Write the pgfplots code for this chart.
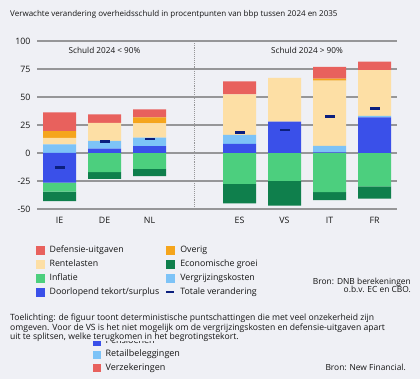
\documentclass[border=0pt]{standalone}
\usepackage{fontspec}
\setmainfont{Open Sans}
\usepackage{pgfplots}
\pgfplotsset{compat=1.18}
\usepackage{pgfplotstable}
\definecolor{bgc}{RGB}{239,240,245}
\definecolor{gridc}{RGB}{150,150,152}
\definecolor{defc}{HTML}{E8615D}
\definecolor{ovc}{HTML}{F5A51C}
\definecolor{rlc}{HTML}{FDDFA5}
\definecolor{infc}{HTML}{4CCF7E}
\definecolor{egc}{HTML}{0F7F4C}
\definecolor{vbc}{HTML}{7DC3F7}
\definecolor{dtc}{HTML}{3A50E9}
\definecolor{totc}{HTML}{0B1F7E}
\definecolor{txtc}{RGB}{20,20,20}

\pgfplotstableread{
x dt inf eg vb rl ov def tot
0 -26.5 -8.0 -8.5 7.8 5.8 6.0 16.7 -13.0
1 3.8 -17.1 -6.0 7.1 16.1 0.0 7.4 10.3
2 6.2 -14.1 -6.5 7.6 12.7 5.3 7.2 12.6
4 8.2 -27.6 -17.4 8.0 36.2 0.0 11.6 18.5
5 28.0 -25.0 -22.0 0.0 39.0 0.0 0.0 20.7
6 0.6 -35.0 -7.0 5.7 58.3 1.8 10.4 32.7
7 31.8 -29.8 -11.0 1.4 40.8 0.0 7.5 39.7
}\data

\begin{document}
\begin{tikzpicture}[every node/.style={text=txtc}]
\fill[bgc] (0,0) rectangle (420pt,379pt);
\node[anchor=base west, inner sep=0, font=\fontsize{8}{9}\selectfont] at (10pt,362pt)
  {Verwachte verandering overheidsschuld in procentpunten van bbp tussen 2024 en 2035};

\begin{axis}[
  at={(37pt,170pt)}, anchor=south west, scale only axis,
  width=360pt, height=168pt,
  xmin=-0.5, xmax=7.5, ymin=-50, ymax=100,
  ybar stacked, bar width=33pt,
  axis line style={draw=none}, major tick style={draw=none},
  ytick={-50,-25,0,25,50,75,100},
  ymajorgrids, grid style={gridc, line width=1.2pt},
  xtick={0,1,2,4,5,6,7}, xticklabels={IE,DE,NL,ES,VS,IT,FR},
  tick label style={font=\fontsize{8.8}{10}\selectfont, text=txtc},
  xticklabel style={yshift=-5pt},
  yticklabel style={xshift=-3pt},
  /pgf/number format/assume math mode=true,
  clip=false,
]
\addplot[fill=dtc, draw=none] table[x=x,y=dt]{\data};
\addplot[fill=infc, draw=none] table[x=x,y=inf]{\data};
\addplot[fill=egc, draw=none] table[x=x,y=eg]{\data};
\addplot[fill=vbc, draw=none] table[x=x,y=vb]{\data};
\addplot[fill=rlc, draw=none] table[x=x,y=rl]{\data};
\addplot[fill=ovc, draw=none] table[x=x,y=ov]{\data};
\addplot[fill=defc, draw=none] table[x=x,y=def]{\data};
\end{axis}

\begin{axis}[
  at={(37pt,170pt)}, anchor=south west, scale only axis,
  width=360pt, height=168pt,
  xmin=-0.5, xmax=7.5, ymin=-50, ymax=100,
  hide axis, clip=false,
  legend columns=2, legend cell align=left,
  legend style={at={(0,0)}, anchor=north west, xshift=-1pt, yshift=-34.5pt,
    draw=none, fill=none, inner sep=0pt, row sep=1.9pt,
    font=\fontsize{8.8}{10}\selectfont, text=txtc,
    /tikz/every odd column/.append style={column sep=3pt},
    /tikz/every even column/.append style={column sep=4pt}},
]
\addplot[gridc, densely dotted, line width=0.9pt, forget plot] coordinates {(3,-50) (3,100)};
\addplot[only marks, mark=-, mark size=5pt, mark options={line width=2.6pt, draw=totc}, forget plot]
  table[x=x,y=tot]{\data};
\node[font=\fontsize{8.2}{9}\selectfont] at (axis cs:1,91.3) {Schuld 2024 < 90\%};
\node[font=\fontsize{8.2}{9}\selectfont] at (axis cs:5.5,91.3) {Schuld 2024 > 90\%};
\addlegendimage{legend image code/.code={\fill[defc] (0pt,-4pt) rectangle (8pt,4pt);}}
\addlegendentry{Defensie-uitgaven}
\addlegendimage{legend image code/.code={\fill[ovc] (0pt,-4pt) rectangle (8pt,4pt);}}
\addlegendentry{Overig}
\addlegendimage{legend image code/.code={\fill[rlc] (0pt,-4pt) rectangle (8pt,4pt);}}
\addlegendentry{Rentelasten}
\addlegendimage{legend image code/.code={\fill[egc] (0pt,-4pt) rectangle (8pt,4pt);}}
\addlegendentry{Economische groei}
\addlegendimage{legend image code/.code={\fill[infc] (0pt,-4pt) rectangle (8pt,4pt);}}
\addlegendentry{Inflatie}
\addlegendimage{legend image code/.code={\fill[vbc] (0pt,-4pt) rectangle (8pt,4pt);}}
\addlegendentry{Vergrijzingskosten}
\addlegendimage{legend image code/.code={\fill[dtc] (0pt,-4pt) rectangle (8pt,4pt);}}
\addlegendentry{Doorlopend tekort/surplus}
\addlegendimage{legend image code/.code={\draw[totc, line width=2pt] (0pt,0pt) -- (8pt,0pt);}}
\addlegendentry{Totale verandering}
\end{axis}

\begin{axis}[
  at={(37pt,170pt)}, anchor=south west, scale only axis,
  width=360pt, height=168pt,
  xmin=-0.5, xmax=7.5, ymin=-50, ymax=100,
  hide axis, clip=false,
  legend columns=1, legend cell align=left,
  legend style={at={(0,0)}, anchor=north west, xshift=56pt, yshift=-126pt,
    draw=none, fill=none, inner sep=0pt, row sep=0.8pt,
    font=\fontsize{9}{10}\selectfont, text=txtc,
    /tikz/every odd column/.append style={column sep=3pt}},
]
\addlegendimage{legend image code/.code={\fill[dtc] (0pt,-3.5pt) rectangle (7pt,3.5pt);}}
\addlegendentry{Pensioenen}
\addlegendimage{legend image code/.code={\fill[vbc] (0pt,-3.5pt) rectangle (7pt,3.5pt);}}
\addlegendentry{Retailbeleggingen}
\addlegendimage{legend image code/.code={\fill[defc] (0pt,-3.5pt) rectangle (7pt,3.5pt);}}
\addlegendentry{Verzekeringen}
\end{axis}

\fill[bgc] (0pt,37.5pt) rectangle (420pt,79pt);
\begin{scope}[every node/.style={anchor=base west, inner sep=0, font=\fontsize{8.6}{9}\selectfont, text=txtc}]
\node at (10pt,58pt) {Toelichting: de figuur toont deterministische puntschattingen die met veel onzekerheid zijn};
\node at (10pt,48.5pt) {omgeven. Voor de VS is het niet mogelijk om de vergrijzingskosten en defensie-uitgaven apart};
\node at (10pt,39.5pt) {uit te splitsen, welke terugkomen in het begrotingstekort.};
\end{scope}
\begin{scope}[every node/.style={anchor=base east, inner sep=0, font=\fontsize{8.4}{9}\selectfont, text=txtc}]
\node at (411pt,94pt) {Bron: DNB berekeningen};
\node at (411pt,86.5pt) {o.b.v. EC en CBO.};
\node at (406pt,8pt) {Bron: New Financial.};
\end{scope}
\end{tikzpicture}
\end{document}
